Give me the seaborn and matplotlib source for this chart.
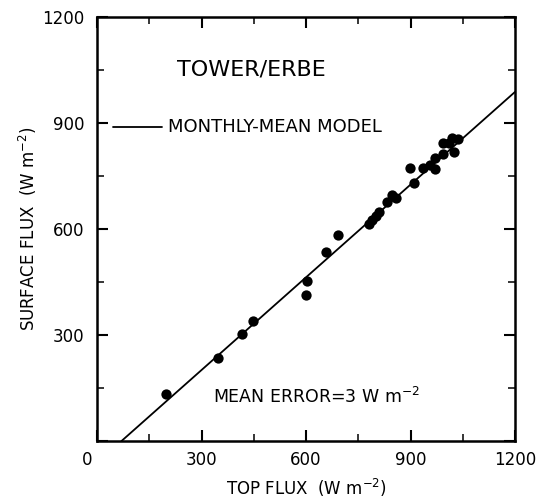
import numpy as np
import pandas as pd
import matplotlib
matplotlib.use("Agg")
import matplotlib.pyplot as plt
import matplotlib.transforms as mtransforms
import seaborn as sns
from matplotlib.ticker import MultipleLocator

# ---- data ----
top_flux = [198, 348, 416, 447, 603, 601, 658, 691, 781, 790, 800, 810, 833, 847, 857,
            899, 909, 937, 956, 970, 970, 994, 994, 1018, 1025, 1037, 1011]
surface_flux = [132, 234, 303, 340, 454, 413, 536, 583, 613, 625, 637, 647, 677, 696, 687,
                773, 731, 773, 781, 800, 769, 812, 844, 858, 819, 854, 844]
model_x = [70, 1200]
model_y = [0, 988]
x_ticks = [0, 300, 600, 900, 1200]
x_tick_labels = ["0", "300", "600", "900", "1200"]
y_ticks = [0, 300, 600, 900, 1200]
y_tick_labels = ["", "300", "600", "900", "1200"]

pts = pd.DataFrame({"top": top_flux, "surf": surface_flux})
mdl = pd.DataFrame({"top": model_x, "surf": model_y})

sns.set_theme(style="ticks")
plt.rcParams["font.family"] = ["DejaVu Sans"]
plt.rcParams["text.color"] = "black"
plt.rcParams["axes.labelcolor"] = "black"

fig = plt.figure(figsize=(5.45, 4.99), dpi=100)
ax = fig.add_axes([0.178, 0.116, 0.767, 0.850])

sns.lineplot(data=mdl, x="top", y="surf", ax=ax, color="black", lw=1.3)
sns.scatterplot(data=pts, x="top", y="surf", ax=ax, color="black", s=55,
                edgecolor="black", linewidth=0, zorder=3)

ax.set_xlim(0, 1200)
ax.set_ylim(0, 1200)
ax.set_xticks(x_ticks)
ax.set_xticklabels(x_tick_labels)
ax.set_yticks(y_ticks)
ax.set_yticklabels(y_tick_labels)
ax.xaxis.set_minor_locator(MultipleLocator(150))
ax.yaxis.set_minor_locator(MultipleLocator(150))
ax.tick_params(which="major", direction="in", length=8, width=1.5,
               top=True, right=True, labelsize=12, colors="black")
ax.tick_params(axis="x", which="major", pad=7)
ax.tick_params(axis="y", which="major", pad=9)
ax.tick_params(which="minor", direction="in", length=5, width=1.3,
               top=True, right=True)
for sp in ax.spines.values():
    sp.set_linewidth(1.8)
    sp.set_color("black")

# shift the "0" at the corner slightly left, as in the reference
lbl0 = ax.get_xticklabels()[0]
lbl0.set_transform(lbl0.get_transform() +
                   mtransforms.ScaledTranslation(-10 / 100, 0, fig.dpi_scale_trans))

ax.set_xlabel("TOP FLUX  (W m$^{-2}$)", fontsize=12, labelpad=6)
ax.set_ylabel("SURFACE FLUX  (W m$^{-2}$)", fontsize=12, labelpad=2)

ax.text(0.191, 0.875, "TOWER/ERBE", transform=ax.transAxes, fontsize=16,
        ha="left", va="center")
ax.plot([0.038, 0.156], [0.741, 0.741], transform=ax.transAxes, color="black", lw=1.3)
ax.text(0.170, 0.741, "MONTHLY-MEAN MODEL", transform=ax.transAxes, fontsize=13,
        ha="left", va="center")
ax.text(0.277, 0.104, "MEAN ERROR=3 W m$^{-2}$", transform=ax.transAxes, fontsize=12.5,
        ha="left", va="center")

fig.savefig("out.png", dpi=100)
